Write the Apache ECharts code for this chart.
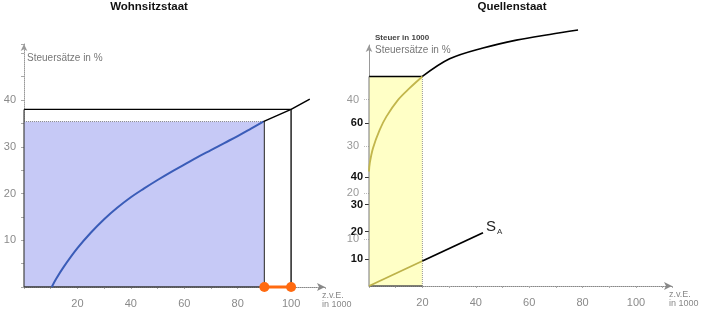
<!DOCTYPE html>
<html>
<head>
<meta charset="utf-8">
<script src="https://cdn.jsdelivr.net/npm/echarts@6/dist/echarts.min.js"></script>
<style>html,body{margin:0;padding:0;background:#fff}#c{width:702px;height:315px}</style>
</head>
<body>
<div id="c"></div>
<script>
// ---- Left panel (Wohnsitzstaat) ----
const leftXLabels = [20, 40, 60, 80, 100];
const leftYLabels = [10, 20, 30, 40];
const leftCurve = [[10.4,0],[12,1.7],[15,4.4],[20,8.3],[25,11.6],[30,14.5],[35,17.0],[40,19.2],[45,21.1],[50,22.9],[55,24.6],[60,26.2],[65,27.8],[70,29.3],[75,30.8],[80,32.3],[85,33.9],[89.6,35.4]];
const leftTail = [[89.6,35.4],[100,38],[107,40.2]];
const blueRectTop = [[0,35.4],[90,35.4]];
const blueRectRight = [[90,0],[90,35.4]];
const blueRectBottom = [[0,0],[90,0]];
const blackRect = [[0,38],[100,38],[100,0]];
const blackRectLeft = [[0,0],[0,38]];
const orangeSpan = [[90,0],[100,0]];

// ---- Right panel (Quellenstaat) ----
const rightXLabels = [20, 40, 60, 80, 100];
const rightBoldLabels = [10, 20, 30, 40, 60];
const rightGreyLabels = [10, 20, 30, 40];
const yellowRectTop = [[0,77.2],[20,77.2]];
const yellowRectRight = [[20,0],[20,77.2]];
const yellowRectBottom = [[0,0],[20,0]];
const yellowRectLeft = [[0,0],[0,77.2]];
const yellowCurve = [[0,42.2],[0.3,45.3],[1.5,50.8],[4,57.5],[6.5,62.4],[10.8,68.5],[15.2,72.9],[20,77.2]];
const taxCurve = [[20,77.2],[30.2,83.7],[42.7,87.7],[55.2,90.6],[67.7,92.7],[78.3,94.3]];
const saInside = [[0,0],[20,9.2]];
const saOutside = [[20,9.2],[42.7,19.6]];
const saLabel = ['S', 'A'];

const FONT = 'Liberation Sans, Arial, sans-serif';
const GREY = '#8a8a8a';

function line(data, color, width, opts) {
  return Object.assign({
    type: 'line', data: data, symbol: 'none', silent: true, animation: false,
    lineStyle: { color: color, width: width }, z: 3
  }, opts || {});
}

const chart = echarts.init(document.getElementById('c'), null, { renderer: 'canvas' });

const valFmt = (list) => (v) => list.indexOf(v) >= 0 ? String(v) : '';

chart.setOption({
  animation: false,
  grid: [
    { left: 24, right: 377, top: 44, bottom: 28 },
    { left: 369, right: 30, top: 45, bottom: 29 }
  ],
  xAxis: [
    { gridIndex: 0, type: 'value', min: 0, max: 112.7, interval: 10,
      axisLine: { lineStyle: { color: '#888', type: 'dotted' }, symbol: ['none','arrow'], symbolSize: [6,8] },
      axisTick: { show: true, length: 2, lineStyle: { color: '#aaa' } },
      axisLabel: { color: GREY, fontSize: 11, fontFamily: FONT, margin: 11, customValues: leftXLabels, formatter: valFmt(leftXLabels) },
      splitLine: { show: false } },
    { gridIndex: 1, type: 'value', min: 0, max: 113.5, interval: 10,
      axisLine: { lineStyle: { color: '#888', type: 'dotted' }, symbol: ['none','arrow'], symbolSize: [6,8] },
      axisTick: { show: true, length: 2, lineStyle: { color: '#aaa' } },
      axisLabel: { color: GREY, fontSize: 11, fontFamily: FONT, margin: 11, customValues: rightXLabels, formatter: valFmt(rightXLabels) },
      splitLine: { show: false } }
  ],
  yAxis: [
    { gridIndex: 0, type: 'value', min: 0, max: 52, interval: 5,
      axisLine: { show: true, lineStyle: { color: '#999', type: 'dotted' }, symbol: ['none','arrow'], symbolSize: [5,7] },
      axisTick: { show: true, length: 3, lineStyle: { color: '#aaa' } },
      axisLabel: { color: GREY, fontSize: 11, fontFamily: FONT, margin: 8, customValues: leftYLabels, formatter: valFmt(leftYLabels) },
      splitLine: { show: false } },
    { gridIndex: 1, type: 'value', min: 0, max: 88.8, interval: 10,
      axisLine: { show: true, lineStyle: { color: '#999' }, symbol: ['none','arrow'], symbolSize: [5,7] },
      axisTick: { show: true, length: 4, lineStyle: { color: '#333' }, customValues: rightBoldLabels },
      axisLabel: { color: '#111', fontSize: 11, fontWeight: 'bold', fontFamily: FONT, margin: 6, customValues: rightBoldLabels, formatter: valFmt(rightBoldLabels) },
      splitLine: { show: false } },
    { gridIndex: 1, type: 'value', min: 0, max: 51.7, interval: 10, position: 'left',
      axisLine: { show: false },
      axisTick: { show: true, length: 5, lineStyle: { color: '#bbb', type: 'dotted' }, customValues: rightGreyLabels },
      axisLabel: { color: '#999', fontSize: 11, fontFamily: FONT, margin: 10, customValues: rightGreyLabels, formatter: valFmt(rightGreyLabels) },
      splitLine: { show: false } }
  ],
  series: [
    // left panel
    line(blueRectTop, '#888', 1, { xAxisIndex: 0, yAxisIndex: 0, z: 1,
      lineStyle: { color: '#8a8a8a', width: 1, type: 'dotted' },
      areaStyle: { color: '#c6c9f6', opacity: 1 } }),
    line(blackRect, '#000', 1.3, { xAxisIndex: 0, yAxisIndex: 0 }),
    line(blackRectLeft, '#444', 1.2, { xAxisIndex: 0, yAxisIndex: 0 }),
    line(blueRectRight, '#444', 1.2, { xAxisIndex: 0, yAxisIndex: 0 }),
    line(blueRectBottom, '#333', 1.5, { xAxisIndex: 0, yAxisIndex: 0 }),
    line(leftCurve, '#3a5cb8', 2, { xAxisIndex: 0, yAxisIndex: 0, smooth: 0.4, z: 4 }),
    line(leftTail, '#000', 1.5, { xAxisIndex: 0, yAxisIndex: 0, z: 4 }),
    { type: 'line', xAxisIndex: 0, yAxisIndex: 0, data: orangeSpan, symbol: 'circle', symbolSize: 10,
      itemStyle: { color: '#ff6a10' }, lineStyle: { color: '#ff6a10', width: 3 }, silent: true, animation: false, z: 5, clip: false },
    // right panel
    line(yellowRectTop, '#000', 1.5, { xAxisIndex: 1, yAxisIndex: 1, z: 2,
      areaStyle: { color: '#ffffc6', opacity: 1 } }),
    line(yellowRectRight, '#999', 1, { xAxisIndex: 1, yAxisIndex: 1, lineStyle: { color: '#999', width: 1, type: 'dotted' } }),
    line(yellowRectBottom, '#555', 1.3, { xAxisIndex: 1, yAxisIndex: 1 }),
    line(yellowRectLeft, '#777', 1, { xAxisIndex: 1, yAxisIndex: 1 }),
    line(yellowCurve, '#c2b64c', 1.8, { xAxisIndex: 1, yAxisIndex: 1, smooth: 0.35, z: 4 }),
    line(taxCurve, '#000', 1.6, { xAxisIndex: 1, yAxisIndex: 1, smooth: 0.35, clip: false, z: 4 }),
    line(saInside, '#bdb24a', 1.8, { xAxisIndex: 1, yAxisIndex: 1, z: 4 }),
    line(saOutside, '#000', 1.8, { xAxisIndex: 1, yAxisIndex: 1, z: 4,
      endLabel: { show: true, distance: 3, offset: [0, -6],
        formatter: '{s|' + saLabel[0] + '}{a|' + saLabel[1] + '}',
        rich: { s: { fontSize: 15, color: '#222', fontFamily: FONT },
                a: { fontSize: 8, color: '#333', fontFamily: FONT, padding: [9, 0, 0, 1] } } } })
  ],
  graphic: [
    { type: 'text', x: 149, y: 7, style: { text: 'Wohnsitzstaat', font: 'bold 11.5px ' + FONT, fill: '#111', align: 'center', verticalAlign: 'middle' } },
    { type: 'text', x: 512, y: 7, style: { text: 'Quellenstaat', font: 'bold 11.5px ' + FONT, fill: '#111', align: 'center', verticalAlign: 'middle' } },
    { type: 'text', x: 27, y: 58, style: { text: 'Steuersätze in %', font: '10px ' + FONT, fill: '#777', verticalAlign: 'middle' } },
    { type: 'text', x: 375, y: 37.5, style: { text: 'Steuer in 1000', font: 'bold 8px ' + FONT, fill: '#444', verticalAlign: 'middle' } },
    { type: 'text', x: 375, y: 50.5, style: { text: 'Steuersätze in %', font: '10px ' + FONT, fill: '#777', verticalAlign: 'middle' } },
    { type: 'text', x: 322, y: 296, style: { text: 'z.v.E.', font: '9px ' + FONT, fill: '#888', verticalAlign: 'middle' } },
    { type: 'text', x: 322, y: 305, style: { text: 'in 1000', font: '9px ' + FONT, fill: '#888', verticalAlign: 'middle' } },
    { type: 'text', x: 669, y: 295, style: { text: 'z.v.E.', font: '9px ' + FONT, fill: '#888', verticalAlign: 'middle' } },
    { type: 'text', x: 669, y: 304, style: { text: 'in 1000', font: '9px ' + FONT, fill: '#888', verticalAlign: 'middle' } }
  ]
});
</script>
</body>
</html>
